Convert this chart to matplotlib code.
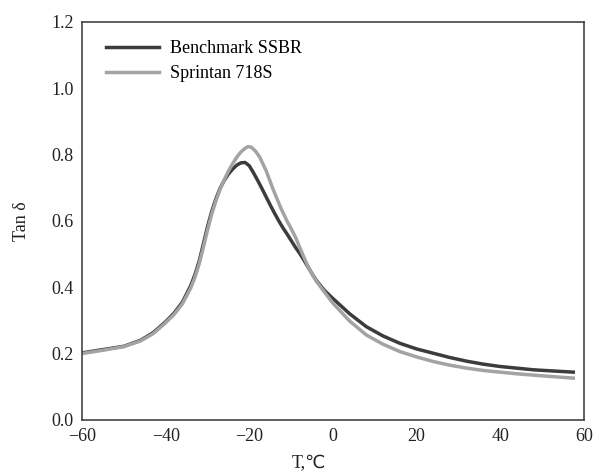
import matplotlib
matplotlib.use("Agg")
import matplotlib.pyplot as plt

# Tan delta vs temperature
bench_T = [-60, -55, -50, -46, -43, -40, -38, -36, -34, -33, -32, -31, -30, -29,
           -28, -27, -26, -25, -24, -23, -22, -21, -20, -19, -18, -17, -16, -15,
           -14, -13, -12, -11, -10, -9, -8, -7, -6, -5, -4, -2, 0, 4, 8, 12, 16,
           20, 24, 28, 32, 36, 40, 44, 48, 52, 57.5]
bench_tan = [0.202, 0.212, 0.222, 0.240, 0.263, 0.296, 0.322, 0.355, 0.405, 0.438,
             0.478, 0.530, 0.582, 0.628, 0.666, 0.698, 0.722, 0.741, 0.756, 0.768,
             0.775, 0.776, 0.766, 0.745, 0.722, 0.698, 0.673, 0.648, 0.624, 0.601,
             0.580, 0.561, 0.541, 0.521, 0.503, 0.483, 0.462, 0.441, 0.421, 0.390,
             0.366, 0.320, 0.281, 0.253, 0.231, 0.214, 0.201, 0.188, 0.177, 0.168,
             0.161, 0.156, 0.151, 0.148, 0.144]

sprint_T = [-60, -55, -50, -46, -43, -40, -38, -36, -34, -33, -32, -31, -30, -29,
            -28, -27, -26, -25, -24, -23, -22, -21, -20.3, -19.5, -18.5, -17.5,
            -16, -14.3, -12.5, -11, -10, -9, -8, -7, -6, -5, -4, -2, 0, 4, 8, 12,
            16, 20, 24, 28, 32, 36, 40, 44, 48, 52, 57.5]
sprint_tan = [0.200, 0.210, 0.221, 0.238, 0.260, 0.293, 0.318, 0.350, 0.398, 0.430,
              0.470, 0.520, 0.572, 0.620, 0.660, 0.695, 0.724, 0.750, 0.772, 0.792,
              0.808, 0.819, 0.824, 0.822, 0.810, 0.792, 0.752, 0.695, 0.640, 0.600,
              0.577, 0.552, 0.522, 0.492, 0.464, 0.440, 0.419, 0.385, 0.352, 0.298,
              0.256, 0.228, 0.206, 0.190, 0.176, 0.165, 0.156, 0.149, 0.144, 0.139,
              0.135, 0.131, 0.126]

labels = ["Benchmark SSBR", "Sprintan 718S"]
colors = ["#3c3c3c", "#a3a3a3"]
x_ticks = [-60, -40, -20, 0, 20, 40, 60]
y_ticks = [0.0, 0.2, 0.4, 0.6, 0.8, 1.0, 1.2]

plt.rcParams["font.family"] = ["Liberation Serif", "DejaVu Sans"]
plt.rcParams["font.size"] = 13

fig = plt.figure(figsize=(5.95, 4.75), dpi=100)
ax = fig.add_axes([0.138, 0.116, 0.843, 0.838])

ax.plot(bench_T, bench_tan, color=colors[0], lw=2.5, label=labels[0])
ax.plot(sprint_T, sprint_tan, color=colors[1], lw=2.5, label=labels[1])

ax.set_xlim(-60, 60)
ax.set_ylim(0, 1.2)
ax.set_xticks(x_ticks)
ax.set_xticklabels([("\u2212%d" % -t if t < 0 else "%d" % t) for t in x_ticks])
ax.set_yticks(y_ticks)
ax.set_yticklabels(["%.1f" % v for v in y_ticks])
ax.tick_params(length=0, pad=6, colors="#222222")

for s in ax.spines.values():
    s.set_color("#444444")
    s.set_linewidth(1.2)

ax.set_xlabel("T,\u2103", x=0.452, labelpad=7, color="#222222")
ax.set_ylabel("Tan \u03b4", labelpad=15, color="#222222")

ax.legend(loc="upper left", bbox_to_anchor=(0.03, 0.977), frameon=False,
          borderpad=0, handlelength=2.9, handletextpad=0.65, labelspacing=0.45)

fig.savefig("out.png", dpi=100, facecolor="white")
